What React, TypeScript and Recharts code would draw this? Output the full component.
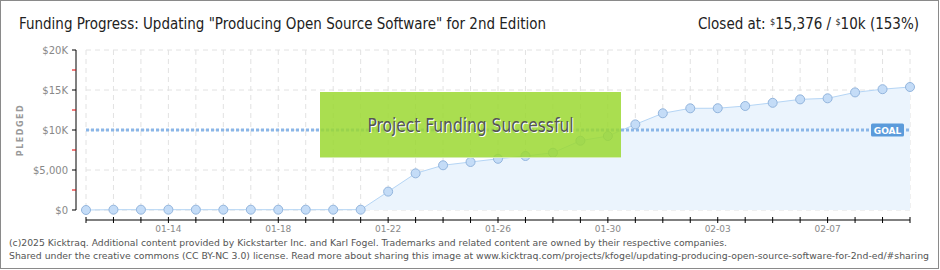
import { AreaChart, Area, XAxis, YAxis, CartesianGrid, ReferenceLine } from 'recharts'

const dates = [
  '01-11', '01-12', '01-13', '01-14', '01-15', '01-16', '01-17', '01-18',
  '01-19', '01-20', '01-21', '01-22', '01-23', '01-24', '01-25', '01-26',
  '01-27', '01-28', '01-29', '01-30', '01-31', '02-01', '02-02', '02-03',
  '02-04', '02-05', '02-06', '02-07', '02-08', '02-09', '02-10',
]

const pledged = [
  0, 40, 40, 40, 40, 40, 40, 40,
  40, 40, 40, 2300, 4580, 5590, 6000, 6400,
  6750, 7160, 8660, 9250, 10700, 12090, 12710, 12720,
  13000, 13400, 13830, 13960, 14700, 15100, 15376,
]

const yTicks = [0, 2500, 5000, 7500, 10000, 12500, 15000, 17500, 20000]
const yMajorTicks = [0, 5000, 10000, 15000, 20000]
const yTickLabels = ['$0', '$5,000', '$10K', '$15K', '$20K']
const xLabelDates = ['01-14', '01-18', '01-22', '01-26', '01-30', '02-03', '02-07']
const goal = 10000

const data = dates.map((d, i) => ({ date: d, pledged: pledged[i] }))

const tickFont = "'DejaVu Sans', sans-serif"
const titleFont = "'DejaVu Sans Condensed', 'DejaVu Sans', sans-serif"

function YTick(props: any) {
  const { x, y, payload } = props
  const idx = yMajorTicks.indexOf(payload.value)
  const major = idx >= 0
  return (
    <g>
      <line x1={x - 14} x2={x - 10} y1={y} y2={y} stroke={major ? '#000' : '#d00'} strokeWidth={1} />
      {major && (
        <text x={x - 18} y={y} dy={3.5} textAnchor="end" fontSize={10} fill="#888" fontFamily={tickFont}>
          {yTickLabels[idx]}
        </text>
      )}
    </g>
  )
}

function XTick(props: any) {
  const { x, y, payload } = props
  const show = xLabelDates.includes(payload.value)
  return (
    <g>
      <line x1={x} x2={x} y1={y + 7} y2={y + 13} stroke="#000" strokeWidth={1} />
      {show && (
        <text x={x} y={y + 22} textAnchor="middle" fontSize={9} fill="#888" fontFamily={tickFont}>
          {payload.value}
        </text>
      )}
    </g>
  )
}

function GoalLabel(props: any) {
  const vb = props.viewBox
  const right = vb.x + vb.width
  return (
    <g>
      <rect x={right - 39} y={vb.y - 6.5} width={33} height={13} rx={1.5} fill="#5b9bdb" />
      <text x={right - 22.5} y={vb.y + 3.5} textAnchor="middle" fontSize={9} fontWeight="bold" fill="#fff" fontFamily={tickFont}>
        GOAL
      </text>
    </g>
  )
}

export default function App() {
  return (
    <div style={{ position: 'fixed', left: 0, top: 0, width: 940, height: 270, background: '#fff' }}>
      <AreaChart width={940} height={270} data={data} margin={{ top: 50, right: 30, bottom: 30, left: 26 }}>
        <CartesianGrid stroke="#e2e2e2" strokeDasharray="5 4" horizontalValues={yMajorTicks} />
        <XAxis
          dataKey="date"
          interval={0}
          tickLine={false}
          tickSize={0}
          tickMargin={0}
          height={30}
          axisLine={{ stroke: '#000', transform: 'translate(0, 10)' }}
          tick={<XTick />}
        />
        <YAxis
          domain={[0, 20000]}
          ticks={yTicks}
          interval={0}
          width={60}
          tickLine={false}
          tickSize={0}
          tickMargin={0}
          axisLine={{ stroke: '#000', transform: 'translate(-10, 0)' }}
          tick={<YTick />}
        />
        <Area
          type="linear"
          dataKey="pledged"
          stroke="#b5d5f5"
          strokeWidth={1}
          fill="#ebf4fd"
          fillOpacity={1}
          dot={{ r: 4.5, fill: '#c4dcf7', stroke: '#93b5dd', strokeWidth: 1 }}
          isAnimationActive={false}
        />
        <ReferenceLine
          y={goal}
          stroke="#8ab6e8"
          strokeWidth={3}
          strokeDasharray="3 2"
          label={<GoalLabel />}
        />
      </AreaChart>
      <svg width={940} height={270} style={{ position: 'absolute', left: 0, top: 0, pointerEvents: 'none' }}>
        <rect x={0.5} y={0.5} width={938} height={268} fill="none" stroke="#8a8a8a" />
        <text x={19} y={29} fontSize={15} fill="#222" fontFamily={titleFont} textLength={527} lengthAdjust="spacingAndGlyphs">
          Funding Progress: Updating "Producing Open Source Software" for 2nd Edition
        </text>
        <text x={919} y={29} textAnchor="end" fontSize={15} fill="#222" fontFamily={titleFont}>
          Closed at:{'  '}
          <tspan fontSize={9} dy={-4}>$</tspan>
          <tspan dy={4}>15,376 / </tspan>
          <tspan fontSize={9} dy={-4}>$</tspan>
          <tspan dy={4}>10k (153%)</tspan>
        </text>
        <text
          x={23}
          y={130}
          transform="rotate(-90 23 130)"
          textAnchor="middle"
          fontSize={8}
          fontWeight="bold"
          letterSpacing={1.5}
          fill="#999"
          fontFamily={tickFont}
        >
          PLEDGED
        </text>
        <rect x={320} y={92} width={301} height={66} fill="#9bd831" fillOpacity={0.85} />
        <line x1={320} x2={621} y1={157.5} y2={157.5} stroke="#d4ecb0" />
        <text x={471.5} y={133} textAnchor="middle" fontSize={19} fill="#fff" fontFamily={titleFont} textLength={206} lengthAdjust="spacingAndGlyphs">
          Project Funding Successful
        </text>
        <text x={470.5} y={132} textAnchor="middle" fontSize={19} fill="#555" fontFamily={titleFont} textLength={206} lengthAdjust="spacingAndGlyphs">
          Project Funding Successful
        </text>
        <text x={9} y={246} fontSize={9} fill="#555" fontFamily={titleFont} textLength={718} lengthAdjust="spacingAndGlyphs">
          (c)2025 Kicktraq. Additional content provided by Kickstarter Inc. and Karl Fogel. Trademarks and related content are owned by their respective companies.
        </text>
        <text x={9} y={259} fontSize={9} fill="#555" fontFamily={titleFont} textLength={920} lengthAdjust="spacingAndGlyphs">
          Shared under the creative commons (CC BY-NC 3.0) license. Read more about sharing this image at www.kicktraq.com/projects/kfogel/updating-producing-open-source-software-for-2nd-ed/#sharing
        </text>
      </svg>
    </div>
  )
}
